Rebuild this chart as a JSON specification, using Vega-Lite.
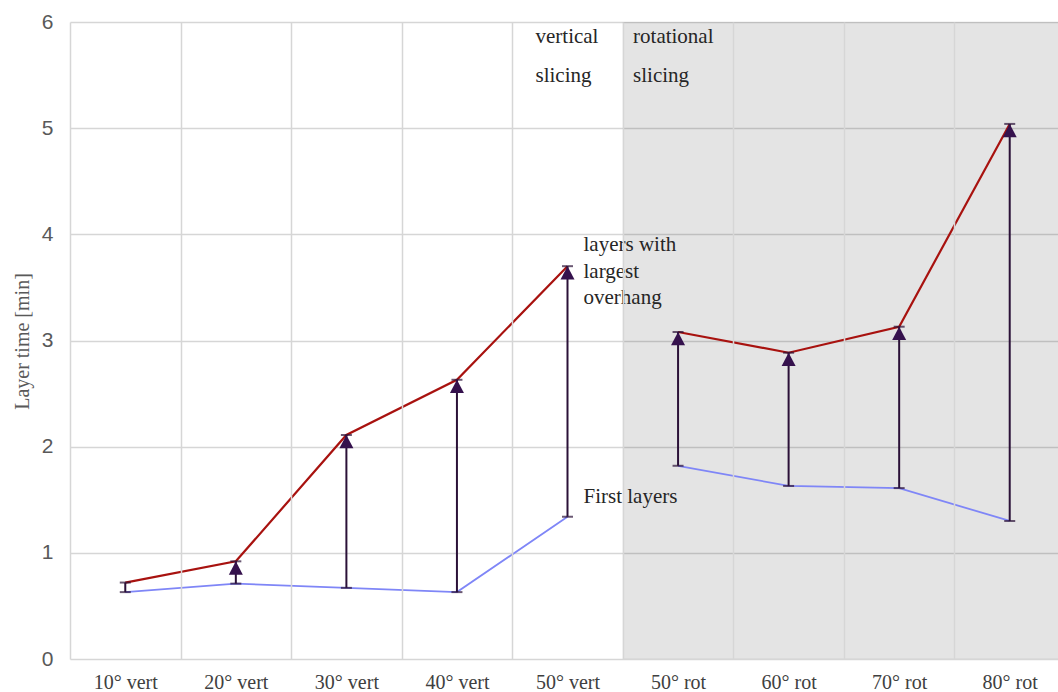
{
  "$schema": "https://vega.github.io/schema/vega-lite/v6.json",
  "width": 988,
  "height": 637,
  "autosize": {"type": "none"},
  "padding": {"left": 70, "top": 22, "right": 0, "bottom": 33},
  "background": "white",
  "config": {"view": {"stroke": null}},
  "data": {
    "values": [
      {"cat": "10° vert", "group": "vert", "first": 0.63, "largest": 0.72},
      {"cat": "20° vert", "group": "vert", "first": 0.71, "largest": 0.92},
      {"cat": "30° vert", "group": "vert", "first": 0.67, "largest": 2.11},
      {"cat": "40° vert", "group": "vert", "first": 0.63, "largest": 2.63},
      {"cat": "50° vert", "group": "vert", "first": 1.34, "largest": 3.7},
      {"cat": "50° rot", "group": "rot", "first": 1.82, "largest": 3.08},
      {"cat": "60° rot", "group": "rot", "first": 1.63, "largest": 2.885},
      {"cat": "70° rot", "group": "rot", "first": 1.61, "largest": 3.13},
      {"cat": "80° rot", "group": "rot", "first": 1.3, "largest": 5.04}
    ]
  },
  "encoding": {
    "x": {
      "field": "cat",
      "type": "nominal",
      "sort": null,
      "scale": {
        "domain": ["10° vert", "20° vert", "30° vert", "40° vert", "50° vert", "50° rot", "60° rot", "70° rot", "80° rot"],
        "paddingInner": 0,
        "paddingOuter": 0,
        "range": [0, 995]
      },
      "axis": {
        "title": null,
        "labelAngle": 0,
        "labelFont": "Liberation Serif",
        "labelFontSize": 20,
        "labelColor": "#404040",
        "labelPadding": 13,
        "ticks": false,
        "tickSize": 0,
        "domain": false,
        "grid": true,
        "tickBand": "extent",
        "gridColor": "#d6d6d6",
        "gridWidth": 1.5
      }
    }
  },
  "layer": [
    {
      "transform": [{"filter": "datum.group === 'rot'"}],
      "mark": {"type": "rect", "fill": "#000000", "fillOpacity": 0.105},
      "encoding": {
        "y": {
          "datum": 0,
          "type": "quantitative",
          "scale": {"domain": [0, 6], "nice": false},
          "axis": {
            "title": "Layer time [min]",
            "titleFont": "Liberation Serif",
            "titleFontSize": 20,
            "titleFontWeight": "normal",
            "titleColor": "#595959",
            "titleAngle": -90,
            "titleX": -48,
            "titleY": 319,
            "titleAlign": "center",
            "titleBaseline": "middle",
            "labelFont": "Liberation Sans",
            "labelFontSize": 21,
            "labelColor": "#595959",
            "labelPadding": 17,
            "labelOverlap": false,
            "format": "d",
            "ticks": false,
            "tickSize": 0,
            "domain": false,
            "values": [0, 1, 2, 3, 4, 5, 6],
            "grid": true,
            "gridColor": "#d6d6d6",
            "gridWidth": 1.5
          }
        },
        "y2": {"datum": 6}
      }
    },
    {
      "mark": {"type": "line", "color": "#a8120f", "strokeWidth": 2.2},
      "encoding": {
        "y": {"field": "largest", "type": "quantitative"},
        "detail": {"field": "group"}
      }
    },
    {
      "mark": {"type": "line", "color": "#7f86f7", "strokeWidth": 1.8},
      "encoding": {
        "y": {"field": "first", "type": "quantitative"},
        "detail": {"field": "group"}
      }
    },
    {
      "mark": {"type": "rule", "color": "#2b1138", "strokeWidth": 2},
      "encoding": {
        "y": {"field": "first", "type": "quantitative"},
        "y2": {"field": "largest"}
      }
    },
    {
      "mark": {"type": "tick", "color": "#2b1138", "size": 11, "thickness": 2},
      "encoding": {"y": {"field": "largest", "type": "quantitative"}}
    },
    {
      "mark": {"type": "tick", "color": "#2b1138", "size": 11, "thickness": 2},
      "encoding": {"y": {"field": "first", "type": "quantitative"}}
    },
    {
      "transform": [{"filter": "datum.cat !== '10° vert'"}],
      "mark": {
        "type": "point",
        "shape": "M0,0L1,1.9L-1,1.9Z",
        "size": 196,
        "filled": true,
        "fill": "#35114d",
        "opacity": 1,
        "strokeWidth": 0
      },
      "encoding": {"y": {"field": "largest", "type": "quantitative"}}
    },
    {
      "data": {"values": [{}]},
      "mark": {"type": "text", "font": "Liberation Serif", "fontSize": 21, "fill": "#262626", "align": "left", "baseline": "alphabetic", "dx": -32, "dy": 21, "lineHeight": 39},
      "encoding": {
        "x": {"datum": "50° vert"},
        "y": {"datum": 6},
        "text": {"value": ["vertical", "slicing"]}
      }
    },
    {
      "data": {"values": [{}]},
      "mark": {"type": "text", "font": "Liberation Serif", "fontSize": 21, "fill": "#262626", "align": "left", "baseline": "alphabetic", "dx": -45, "dy": 21, "lineHeight": 39},
      "encoding": {
        "x": {"datum": "50° rot"},
        "y": {"datum": 6},
        "text": {"value": ["rotational", "slicing"]}
      }
    },
    {
      "data": {"values": [{}]},
      "mark": {"type": "text", "font": "Liberation Serif", "fontSize": 21, "fill": "#262626", "align": "left", "baseline": "alphabetic", "dx": 16, "dy": -15, "lineHeight": 26.5},
      "encoding": {
        "x": {"datum": "50° vert"},
        "y": {"datum": 3.7},
        "text": {"value": ["layers with", "largest", "overhang"]}
      }
    },
    {
      "data": {"values": [{}]},
      "mark": {"type": "text", "font": "Liberation Serif", "fontSize": 21, "fill": "#262626", "align": "left", "baseline": "alphabetic", "dx": 16, "dy": -14},
      "encoding": {
        "x": {"datum": "50° vert"},
        "y": {"datum": 1.34},
        "text": {"value": "First layers"}
      }
    }
  ]
}
